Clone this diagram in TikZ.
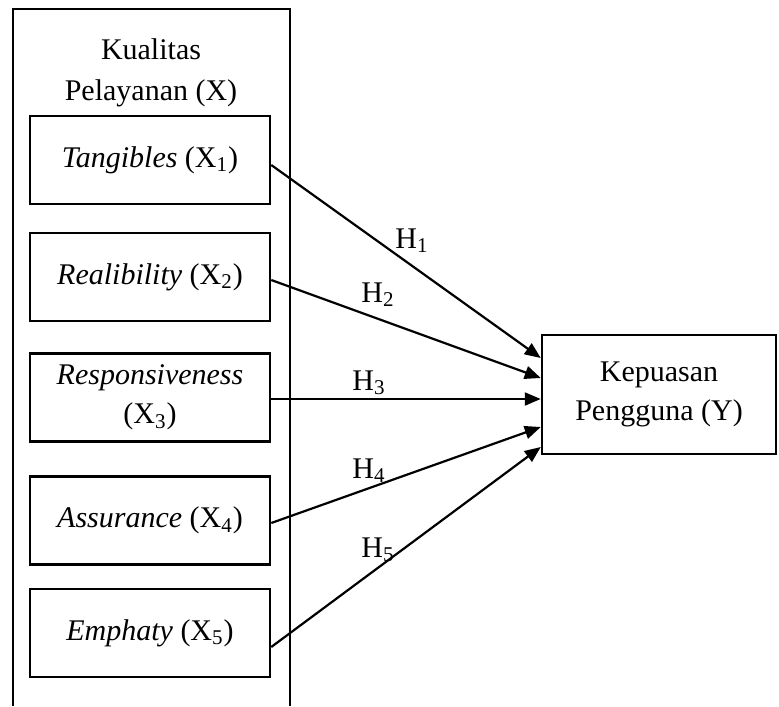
\documentclass[tikz,border=0pt]{standalone}
\usepackage{fontspec}
\setmainfont{Liberation Serif}
\usetikzlibrary{arrows.meta}
\begin{document}
\begin{tikzpicture}[x=0.5pt,y=-0.5pt,
  every node/.style={font=\fontsize{15}{19.5}\selectfont},
  xbox/.style={draw,line width=1.25pt,minimum width=120pt,minimum height=44pt,inner sep=0pt,align=center},
  conn/.style={line width=1.1pt,-{Triangle[length=8pt,width=6.5pt]}},
  hlab/.style={anchor=base,inner sep=0pt}]
\useasboundingbox (0,0) rectangle (779,706);
% outer open frame
\draw[line width=1.25pt] (13,706) -- (13,9) -- (290,9) -- (290,706);
\node[align=center,inner sep=0pt,font=\fontsize{15}{20.5}\selectfont] (title) at (151,73) {Kualitas\\Pelayanan (X)};
\node[xbox] (b1) at (150,160) {\textit{Tangibles} (X\textsubscript{1})};
\node[xbox] (b2) at (150,277) {\textit{Realibility} (X\textsubscript{2})};
\node[xbox] (b3) at (150,397.5) {\textit{Responsiveness}\\(X\textsubscript{3})};
\node[xbox] (b4) at (150,520.5) {\textit{Assurance} (X\textsubscript{4})};
\node[xbox] (b5) at (150,633) {\textit{Emphaty} (X\textsubscript{5})};
\node[draw,line width=1.25pt,minimum width=117pt,minimum height=59.5pt,inner sep=0pt,align=center] (y) at (659,394.5) {Kepuasan\\Pengguna (Y)};
\draw[conn] ([yshift=-2.5pt]b1.east) -- ([yshift=18.25pt]y.west);
\draw[conn] ([yshift=-1.5pt]b2.east) -- ([yshift=8.25pt]y.west);
\draw[conn] ([yshift=-0.75pt]b3.east) -- ([yshift=-2.25pt]y.west);
\draw[conn] ([yshift=-1.25pt]b4.east) -- ([yshift=-16.25pt]y.west);
\draw[conn] ([yshift=-7pt]b5.east) -- ([yshift=-26.25pt]y.west);
\node[hlab] (h1) at (412,248) {H\textsubscript{1}};
\node[hlab] (h2) at (378,302) {H\textsubscript{2}};
\node[hlab] (h3) at (369,390) {H\textsubscript{3}};
\node[hlab] (h4) at (369,478) {H\textsubscript{4}};
\node[hlab] (h5) at (378,557) {H\textsubscript{5}};
\end{tikzpicture}
\end{document}
